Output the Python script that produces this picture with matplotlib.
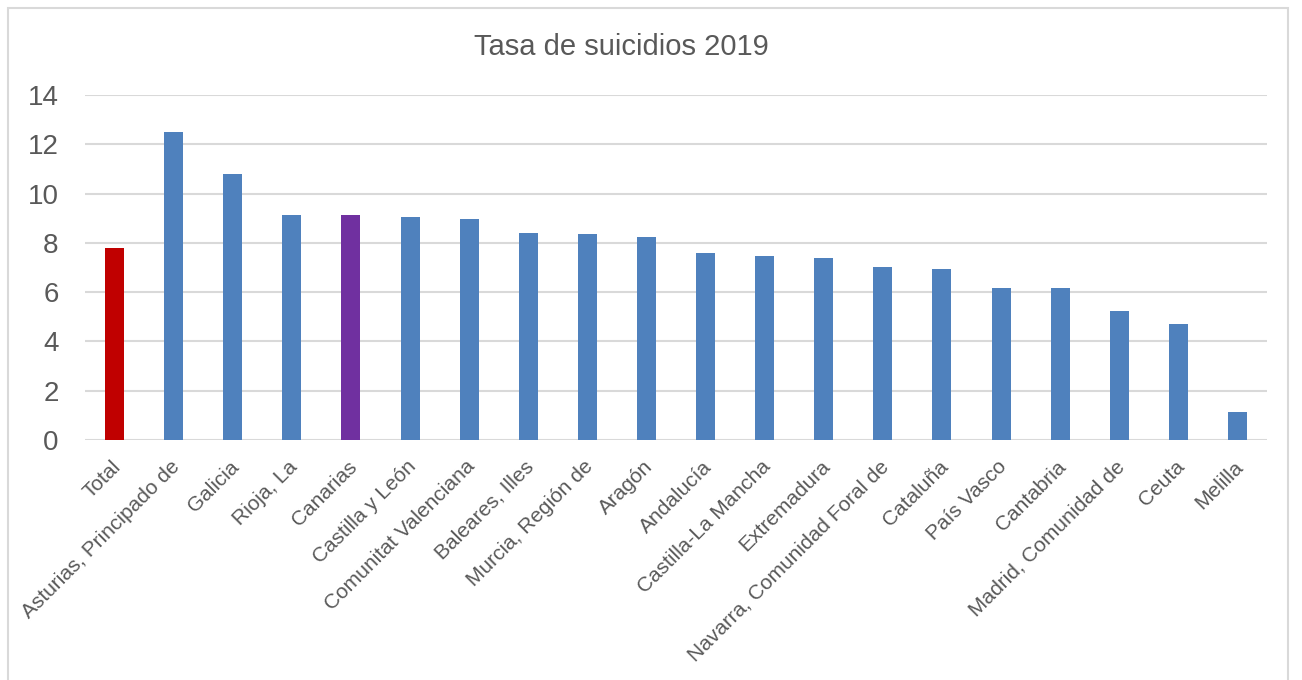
import matplotlib
matplotlib.use("Agg")
import matplotlib.pyplot as plt
from matplotlib.patches import Rectangle
import matplotlib.transforms as mtransforms

categories = ["Total", "Asturias, Principado de", "Galicia", "Rioja, La", "Canarias",
              "Castilla y León", "Comunitat Valenciana", "Baleares, Illes",
              "Murcia, Región de", "Aragón", "Andalucía", "Castilla-La Mancha",
              "Extremadura", "Navarra, Comunidad Foral de", "Cataluña", "País Vasco",
              "Cantabria", "Madrid, Comunidad de", "Ceuta", "Melilla"]
values = [7.79, 12.49, 10.80, 9.14, 9.13, 9.06, 8.96, 8.42, 8.35, 8.23,
          7.58, 7.46, 7.37, 7.01, 6.93, 6.18, 6.18, 5.22, 4.70, 1.14]
yticks = [0, 2, 4, 6, 8, 10, 12, 14]
title = "Tasa de suicidios 2019"

blue = "#4F81BD"
colors = [blue] * len(values)
colors[0] = "#C00000"
colors[4] = "#7030A0"

plt.rcParams['font.family'] = ['Liberation Sans', 'DejaVu Sans']
text_color = "#595959"

fig = plt.figure(figsize=(13.02, 6.80), dpi=100)
fig.patches.append(Rectangle((8/1302, -0.01), 1280/1302, 1 - 8/680 + 0.01,
                             transform=fig.transFigure, fill=False,
                             edgecolor="#D9D9D9", linewidth=1.5))
ax = fig.add_axes([85/1302, (680-440)/680, (1267-85)/1302, (440-95)/680])

x = list(range(len(categories)))
ax.bar(x, values, width=0.32, color=colors, zorder=3)

ax.set_xlim(-0.5, len(categories) - 0.5)
ax.set_ylim(0, 14)
ax.set_yticks(yticks)
ax.set_yticklabels([str(t) for t in yticks], fontsize=20, color=text_color)
ax.grid(axis='y', color="#D9D9D9", linewidth=1.5, zorder=0)
ax.tick_params(axis='y', length=0, pad=19)
ax.tick_params(axis='x', length=0, pad=2)
for s in ax.spines.values():
    s.set_visible(False)

ax.set_xticks(x)
ax.set_xticklabels(categories, rotation=45, ha='right', va='center',
                   rotation_mode='anchor', fontsize=15, color=text_color)
offset = mtransforms.ScaledTranslation(3/100, -21/100, fig.dpi_scale_trans)
for lab in ax.get_xticklabels():
    lab.set_transform(lab.get_transform() + offset)

fig.text(621/1302, 1 - 47/680, title, ha='center', va='center',
         fontsize=21, color=text_color)

fig.savefig("out.png", dpi=100)
